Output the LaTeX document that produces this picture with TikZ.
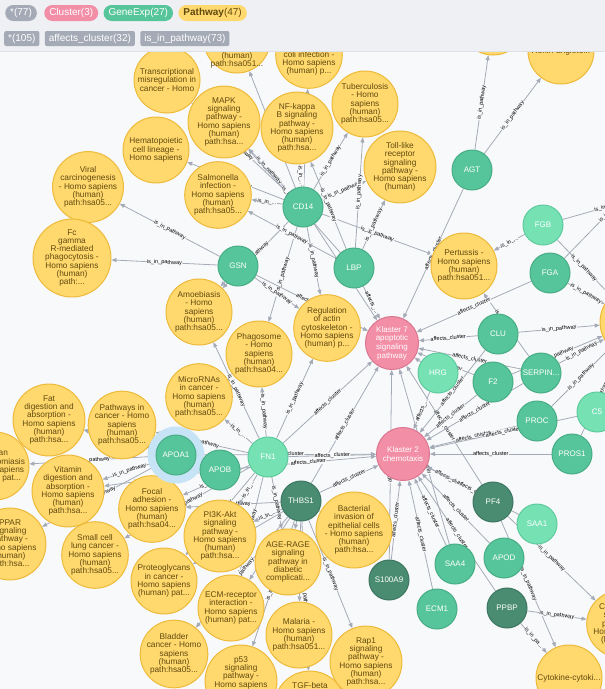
\documentclass[tikz,border=0pt]{standalone}
\usepackage{fontspec}
\setmainfont{Liberation Sans}
\usetikzlibrary{arrows.meta, positioning}
\definecolor{Canvas}   {HTML}{F8F9FB}
\definecolor{HeadBg}   {HTML}{EEF0F4}
\definecolor{HeadLine} {HTML}{DDE0E6}
\definecolor{Edge}     {HTML}{A5ABB6}
\definecolor{PwFill}   {HTML}{FFD86E}
\definecolor{PwLine}   {HTML}{EDBA39}
\definecolor{PwText}   {HTML}{604A0E}
\definecolor{GMed}     {HTML}{57C59B}
\definecolor{GMedL}    {HTML}{46AD85}
\definecolor{GLight}   {HTML}{76E2B4}
\definecolor{GLightL}  {HTML}{5DCA9D}
\definecolor{GDark}    {HTML}{4A8C72}
\definecolor{GDarkL}   {HTML}{3D7661}
\definecolor{KFill}    {HTML}{F28EA6}
\definecolor{KLine}    {HTML}{DA7690}
\definecolor{Halo}     {HTML}{C6E4F6}
\pgfdeclarelayer{bg}
\pgfdeclarelayer{edges}
\pgfdeclarelayer{top}
\pgfsetlayers{bg,edges,main,top}
\tikzset{
  pw/.style={
    circle, draw=PwLine, fill=PwFill, text=PwText,
    line width=1pt, minimum size=66pt, inner sep=0pt,
    align=center, font=\fontsize{8.3}{8.2}\selectfont,
  },
  pwtxt/.style={
    text=PwText, align=center, inner sep=0pt,
    font=\fontsize{8.3}{8.2}\selectfont,
  },
  gene/.style args={#1/#2}{
    circle, draw=#2, fill=#1, text=white,
    line width=1pt, minimum size=40pt, inner sep=0pt,
    font=\fontsize{8}{9}\selectfont,
  },
  klaster/.style={
    circle, draw=KLine, fill=KFill, text=white,
    line width=1pt, minimum size=53pt, inner sep=0pt,
    align=center, font=\fontsize{8}{8.7}\selectfont,
  },
  halo/.style={circle, fill=Halo, minimum size=57pt, inner sep=0pt},
  rel/.style={
    -{Triangle[length=5pt,width=4pt]},
    line width=0.8pt, color=Edge,
  },
  rlbl/.style={
    midway, sloped, fill=Canvas, text=black, inner sep=0.4pt,
    font=\fontsize{5.5}{5.5}\selectfont,
  },
  pill/.style args={#1/#2}{
    rectangle, rounded corners=8pt, fill=#1, text=#2,
    minimum height=16pt, inner xsep=5pt, inner ysep=0pt,
    font=\fontsize{10}{10}\selectfont,
  },
  tag/.style={
    rectangle, rounded corners=2pt, fill=Edge, text=white,
    minimum height=15pt, inner xsep=4pt, inner ysep=0pt,
    font=\fontsize{10}{10}\selectfont,
  },
}

\begin{document}
\begin{tikzpicture}[x=1pt,y=-1pt]
  \useasboundingbox (0,0) rectangle (605,689);
  \begin{pgfonlayer}{bg}
    \fill[Canvas] (0,0) rectangle (605,689);
  \end{pgfonlayer}

  % pathways
  \node[pw] (pA) at (237,40) {};
  \node[pwtxt] (pAtxt) at (237,60) {(human)\\path:hsa051...};
  \node[pw] (pB) at (309,55) {Pathogenic\\Escherichia\\coli infection -\\Homo sapiens\\(human) p...};
  \node[pw] (pC) at (493,22) {};
  \node[pw] (renin) at (561,51) {Renin-angiote...};
  \node[pw] (trans) at (167,80) {Transcriptional\\misregulation in\\cancer - Homo};
  \node[pw] (mapk) at (224,122) {MAPK\\signaling\\pathway -\\Homo sapiens\\(human)\\path:hsa...};
  \node[pw] (nfkb) at (297,128) {NF-kappa\\B signaling\\pathway -\\Homo sapiens\\(human)\\path:hsa...};
  \node[pw] (tuber) at (365,104) {Tuberculosis\\- Homo\\sapiens\\(human)\\path:hsa05...};
  \node[pw] (toll) at (400,167) {Toll-like\\receptor\\signaling\\pathway -\\Homo sapiens\\(human)};
  \node[pw] (hemat) at (156,150) {Hematopoietic\\cell lineage -\\Homo sapiens};
  \node[pw] (salm) at (218,195) {Salmonella\\infection -\\Homo sapiens\\(human)\\path:hsa05...};
  \node[pw] (viral) at (88,187) {Viral\\carcinogenesis\\- Homo sapiens\\(human)\\path:hsa05...};
  \node[pw] (fcg) at (72,258) {Fc\\gamma\\R-mediated\\phagocytosis -\\Homo sapiens\\(human)\\path:...};
  \node[pw] (amoeb) at (199,312) {Amoebiasis\\- Homo\\sapiens\\(human)\\path:hsa05...};
  \node[pw] (phago) at (259,354) {Phagosome\\- Homo\\sapiens\\(human)\\path:hsa04...};
  \node[pw] (regact) at (327,328) {Regulation\\of actin\\cytoskeleton -\\Homo sapiens\\(human) p...};
  \node[pw] (pert) at (464,266) {Pertussis -\\Homo sapiens\\(human)\\path:hsa051...};
  \node[pw] (micro) at (199,397) {MicroRNAs\\in cancer -\\Homo sapiens\\(human)\\path:hsa05...};
  \node[pw] (pcanc) at (122,425) {Pathways in\\cancer - Homo\\sapiens\\(human)\\path:hsa05...};
  \node[pw] (fat) at (49,420) {Fat\\digestion and\\absorption -\\Homo sapiens\\(human)\\path:hsa...};
  \node[pw] (afr) at (-5,466) {African\\trypanosomiasis\\- Homo sapiens\\(human) pat...};
  \node[pw] (vit) at (68,491) {Vitamin\\digestion and\\absorption -\\Homo sapiens\\(human)\\path:hsa...};
  \node[pw] (focal) at (152,509) {Focal\\adhesion -\\Homo sapiens\\(human)\\path:hsa04...};
  \node[pw] (ppar) at (10,544) {PPAR\\signaling\\pathway -\\Homo sapiens\\(human)\\path:hsa...};
  \node[pw] (small) at (95,555) {Small cell\\lung cancer -\\Homo sapiens\\(human)\\path:hsa05...};
  \node[pw] (pi3k) at (220,536) {PI3K-Akt\\signaling\\pathway -\\Homo sapiens\\(human)\\path:hsa...};
  \node[pw] (proteo) at (164,581) {Proteoglycans\\in cancer -\\Homo sapiens\\(human) pat...};
  \node[pw] (agerage) at (288,562) {AGE-RAGE\\signaling\\pathway in\\diabetic\\complicati...};
  \node[pw] (bact) at (354,530) {Bacterial\\invasion of\\epithelial cells\\- Homo sapiens\\(human)\\path:hsa...};
  \node[pw] (ecmr) at (231,608) {ECM-receptor\\interaction -\\Homo sapiens\\(human) pat...};
  \node[pw] (malaria) at (299,635) {Malaria -\\Homo sapiens\\(human)\\path:hsa051...};
  \node[pw] (bladder) at (174,654) {Bladder\\cancer - Homo\\sapiens\\(human)\\path:hsa05...};
  \node[pw] (p53) at (241,681) {p53\\signaling\\pathway -\\Homo sapiens\\(human)\\path:hsa...};
  \node[pw] (tgfb) at (310,707) {TGF-beta\\signaling\\pathway -\\Homo sapiens\\(human)\\path:hsa...};
  \node[pw] (rap1) at (366,662) {Rap1\\signaling\\pathway -\\Homo sapiens\\(human)\\path:hsa...};
  \node[pw] (chemo) at (620,624) {Chemokine\\signaling\\pathway -\\Homo sapiens\\(human)...};
  \node[pw] (cyto) at (569,678) {Cytokine-cytoki...};
  \node[pw] (compl) at (636,322) {Complement\\and\\coagulation\\cascades -\\Homo sapiens\\(human)...};
  \coordinate (offA) at (660,192);
  \coordinate (offB) at (660,160);

  % genes
  \node[halo] (apoa1h) at (176,455) {};
  \node[gene=GMed/GMedL] (cd14) at (303,207) {CD14};
  \node[gene=GMed/GMedL] (agt) at (472,170) {AGT};
  \node[gene=GMed/GMedL] (gsn) at (238,266) {GSN};
  \node[gene=GMed/GMedL] (lbp) at (354,268) {LBP};
  \node[gene=GLight/GLightL] (fgb) at (543,225) {FGB};
  \node[gene=GMed/GMedL] (fga) at (550,273) {FGA};
  \node[gene=GMed/GMedL] (clu) at (498,334) {CLU};
  \node[gene=GLight/GLightL] (hrg) at (438,373) {HRG};
  \node[gene=GMed/GMedL] (f2) at (493,382) {F2};
  \node[gene=GMed/GMedL] (serpin) at (541,373) {SERPIN...};
  \node[gene=GLight/GLightL] (c5) at (597,412) {C5};
  \node[gene=GMed/GMedL] (proc) at (537,421) {PROC};
  \node[gene=GMed/GMedL] (pros1) at (572,454) {PROS1};
  \node[gene=GMed/GMedL] (apoa1) at (176,455) {APOA1};
  \node[gene=GMed/GMedL] (apob) at (220,470) {APOB};
  \node[gene=GLight/GLightL] (fn1) at (268,457) {FN1};
  \node[gene=GDark/GDarkL] (thbs1) at (301,501) {THBS1};
  \node[gene=GDark/GDarkL] (pf4) at (493,502) {PF4};
  \node[gene=GLight/GLightL] (saa1) at (537,524) {SAA1};
  \node[gene=GMed/GMedL] (saa4) at (455,564) {SAA4};
  \node[gene=GMed/GMedL] (apod) at (504,558) {APOD};
  \node[gene=GDark/GDarkL] (s100a9) at (389,580) {S100A9};
  \node[gene=GMed/GMedL] (ecm1) at (437,609) {ECM1};
  \node[gene=GDark/GDarkL] (ppbp) at (507,608) {PPBP};

  % clusters
  \node[klaster] (k7) at (392,343) {Klaster 7\\apoptotic\\signaling\\pathway};
  \node[klaster] (k2) at (403,454) {Klaster 2\\chemotaxis};

  \begin{pgfonlayer}{edges}
    \foreach \g/\p in {cd14/mapk, cd14/tuber, cd14/toll, cd14/hemat, cd14/trans, cd14/pA,
        cd14/pB, cd14/pert, cd14/regact, cd14/amoeb, cd14/phago,
        lbp/salm, lbp/mapk, lbp/nfkb, lbp/tuber, lbp/toll,
        gsn/fcg, gsn/viral, gsn/regact, agt/pC, agt/renin,
        fgb/compl, fgb/offA, fga/compl, fga/offB, clu/compl, serpin/pert, serpin/compl,
        f2/compl, proc/compl, pros1/compl, c5/compl,
        apoa1/fat, apoa1/afr, apoa1/vit, apoa1/ppar, apob/vit, apob/fat,
        fn1/amoeb, fn1/phago, fn1/regact, fn1/pcanc, fn1/focal, fn1/ecmr, fn1/proteo,
        fn1/small, fn1/agerage,
        thbs1/rap1, thbs1/malaria, thbs1/ecmr, thbs1/focal, thbs1/proteo, thbs1/p53,
        thbs1/tgfb, thbs1/bladder,
        pf4/chemo, pf4/cyto, ppbp/chemo}
      \draw[rel] (\g) -- node[rlbl]{is\_in\_pathway} (\p);
    \foreach \g/\p in {cd14/nfkb, cd14/salm, fgb/pert, fn1/micro, fn1/pi3k, thbs1/pi3k}
      \draw[rel] (\g) -- node[rlbl]{is\_in\_...} (\p);
    \draw[rel] (ppbp) -- node[rlbl]{is\_in\_pa...} (cyto);
    \foreach \g/\p in {gsn/amoeb, apoa1/pcanc, thbs1/bact, thbs1/agerage}
      \draw[rel] (\g) -- (\p);
    \foreach \g/\c in {cd14/k7, gsn/k7, agt/k7, fga/k7, clu/k7, f2/k7, serpin/k7,
        thbs1/k7, s100a9/k7, saa4/k7, pf4/k7, fn1/k7,
        apoa1/k2, apob/k2, fn1/k2, thbs1/k2, s100a9/k2, ecm1/k2, saa4/k2, apod/k2,
        pf4/k2, ppbp/k2, saa1/k2, f2/k2, clu/k2, serpin/k2, proc/k2, pros1/k2, c5/k2}
      \draw[rel] (\g) -- node[rlbl]{affects\_cluster} (\c);
    \foreach \g/\c in {lbp/k7, hrg/k2}
      \draw[rel] (\g) -- node[rlbl]{affects\_...} (\c);
    \draw[rel] (hrg) -- (k7);
  \end{pgfonlayer}

  % header
  \begin{pgfonlayer}{top}
    \fill[HeadBg] (0,0) rectangle (605,51);
    \draw[HeadLine] (0,51) -- (605,51);
    \node[pill=Edge/white, anchor=west] (allN) at (5,13) {*(77)};
    \node[pill=KFill/white, right=7pt of allN] (clusN) {Cluster(3)};
    \node[pill=GMed/white, right=5pt of clusN] (geneN) {GeneExp(27)};
    \node[pill=PwFill/PwText, right=5pt of geneN] (pathN) {\textbf{Pathway}(47)};
    \node[tag, anchor=west] (allR) at (4,38.5) {*(105)};
    \node[tag, right=5pt of allR] (affR) {affects\_cluster(32)};
    \node[tag, right=5pt of affR] (isinR) {is\_in\_pathway(73)};
  \end{pgfonlayer}
\end{tikzpicture}
\end{document}
